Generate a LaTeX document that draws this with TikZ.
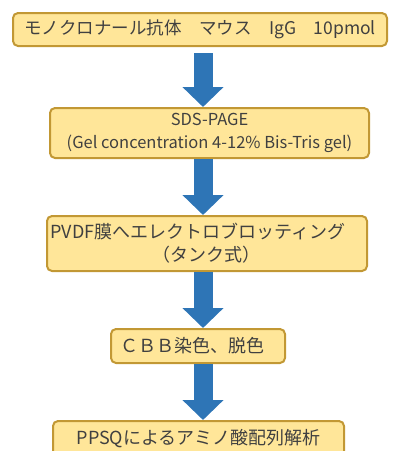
\documentclass[tikz,border=0pt]{standalone}
\usepackage{fontspec}
\newfontfamily\jpfont{Noto Sans CJK JP}
\usetikzlibrary{arrows.meta,positioning}
\definecolor{StepFill}{RGB}{255,230,153}
\definecolor{StepEdge}{RGB}{194,152,52}
\definecolor{FlowBlue}{RGB}{46,117,182}
\definecolor{TextGray}{RGB}{64,64,64}

\begin{document}
\begin{tikzpicture}[
    x=1pt, y=-1pt,
    node distance=56pt,
    box/.style={draw=StepEdge, fill=StepFill, line width=2pt, rounded corners=5pt, align=center, inner sep=0pt, text=TextGray, font=\jpfont\fontsize{18}{23}\selectfont},
    flow/.style={draw=FlowBlue, line width=19pt, -{Triangle[length=20pt,width=40pt]}}
  ]
  \useasboundingbox (0,0) rectangle (393,451);
  \coordinate (spine) at (203,0);
  \node[box, minimum width=374pt, minimum height=33pt, font=\jpfont\fontsize{17.5}{23}\selectfont] (mab) at (200,29.5) {モノクロナール抗体　マウス　IgG　10pmol};
  \node[box, minimum width=319pt, minimum height=50pt, below=60pt of mab, xshift=9.5pt, font=\jpfont\fontsize{16.5}{23}\selectfont] (sds) {SDS-PAGE\\(Gel concentration 4-12\% Bis-Tris gel)};
  \node[box, minimum width=320pt, minimum height=55pt, below=of sds, xshift=-2.5pt] (pvdf) {PVDF膜へエレクトロブロッティング　\\（タンク式）};
  \node[box, minimum width=174pt, minimum height=34pt, below=of pvdf, xshift=-9pt] (cbb) {ＣＢＢ染色、脱色\hspace*{10pt}};
  \node[box, minimum width=291pt, minimum height=36pt, below=of cbb, xshift=0.5pt] (ppsq) {PPSQによるアミノ酸配列解析};
  \draw[flow, shorten <=6pt] (mab.south -| spine) -- (sds.north -| spine);
  \draw[flow] (sds.south -| spine) -- (pvdf.north -| spine);
  \draw[flow] (pvdf.south -| spine) -- (cbb.north -| spine);
  \draw[flow] (cbb.south -| spine) -- (ppsq.north -| spine);
\end{tikzpicture}
\end{document}
